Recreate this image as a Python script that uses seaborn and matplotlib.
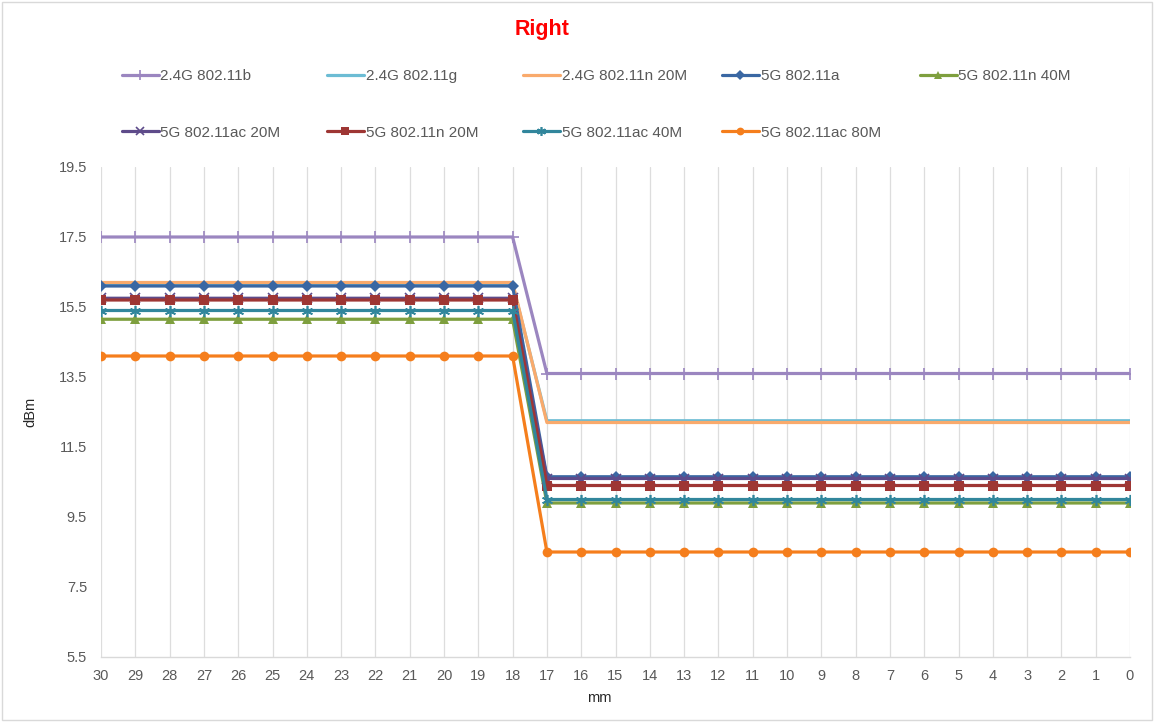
import matplotlib

matplotlib.use("Agg")
import matplotlib.pyplot as plt
import numpy as np
import pandas as pd
import seaborn as sns

# distance in mm, read from left (30) to right (0)
distance = list(range(30, -1, -1))
drop_at = 18  # last distance at the high level

series_names = [
    "2.4G 802.11b",
    "2.4G 802.11g",
    "2.4G 802.11n 20M",
    "5G 802.11a",
    "5G 802.11n 40M",
    "5G 802.11ac 20M",
    "5G 802.11n 20M",
    "5G 802.11ac 40M",
    "5G 802.11ac 80M",
]
# power level (dBm) for distance >= 18 and for distance <= 17
level_far = [17.5, 16.15, 16.2, 16.1, 15.15, 15.75, 15.7, 15.4, 14.1]
level_near = [13.6, 12.25, 12.2, 10.65, 9.9, 10.6, 10.4, 10.0, 8.5]

colors = [
    "#9B86C0", "#6CBCD4", "#F9AA6C", "#3A67A3", "#7E9F3E",
    "#5E4B8A", "#9E3634", "#31869C", "#F57E1C",
]
markers = ["+", None, None, "D", "^", "x", "s", (6, 2, 0), "o"]
marker_sizes = [9, 0, 0, 6, 7, 7, 7, 8, 7]

rows = []
for name, far, near in zip(series_names, level_far, level_near):
    for d in distance:
        rows.append({"series": name, "mm": d, "dBm": far if d >= drop_at else near})
df = pd.DataFrame(rows)

sns.set_style("white")
plt.rcParams["font.family"] = ["Liberation Sans", "DejaVu Sans"]

fig = plt.figure(figsize=(11.54, 7.22), dpi=100)
ax = fig.add_axes([101 / 1154, 1 - 657 / 722, 1029 / 1154, 490 / 722])

handles = []
for i, name in enumerate(series_names):
    sub = df[df["series"] == name]
    sns.lineplot(
        data=sub, x="mm", y="dBm", ax=ax, color=colors[i],
        marker=markers[i], markersize=marker_sizes[i],
        markeredgecolor=colors[i], markeredgewidth=1.2 if markers[i] in ("+", "x", (6, 2, 0)) else 0,
        linewidth=2.3, label=name, legend=False, zorder=3 + i,
    )
    handles.append(ax.lines[-1])

ax.set_xlim(30, 0)
ax.set_ylim(5.5, 19.5)
ax.set_xticks(distance)
ax.set_yticks(np.arange(5.5, 19.6, 2))
ax.set_yticklabels([f"{v:.1f}" for v in np.arange(5.5, 19.6, 2)])
ax.grid(axis="x", color="#DDDDDD", linewidth=0.9)
ax.grid(axis="y", visible=False)
ax.tick_params(axis="both", length=0, labelsize=10.5, labelcolor="#595959")
ax.tick_params(axis="x", pad=9)
ax.tick_params(axis="y", pad=10)
for side in ["top", "right", "left"]:
    ax.spines[side].set_visible(False)
ax.spines["bottom"].set_color("#D9D9D9")
ax.spines["bottom"].set_linewidth(1.0)

ax.set_xlabel("mm", fontsize=10.5, color="#262626")
ax.set_ylabel("dBm", fontsize=10.5, color="#262626")
ax.xaxis.set_label_coords(0.484, -0.07)
ax.yaxis.set_label_coords(-0.062, 0.5)

fig.text(542.5 / 1154, 1 - 29 / 722, "Right", color="red", fontsize=15.5,
         fontweight="bold", ha="center", va="center")

# legend laid out as 5 columns, 2 rows
col_x = [122, 327, 523, 722, 920]
for c, x0 in enumerate(col_x):
    col_handles = [handles[j] for j in (c, c + 5) if j < len(handles)]
    fig.legend(
        handles=col_handles, loc="upper left",
        bbox_to_anchor=(x0 / 1154, 1 - 69 / 722),
        frameon=False, fontsize=11, labelspacing=2.8,
        handlelength=2.4, handletextpad=0.12, borderpad=0, borderaxespad=0,
        markerscale=0.8, labelcolor="#595959",
    )

fig.patches.append(plt.Rectangle((0.002, 0.003), 0.996, 0.994, transform=fig.transFigure,
                                 fill=False, edgecolor="#D9D9D9", linewidth=1))

fig.savefig("out.png", dpi=100)
plt.close(fig)
